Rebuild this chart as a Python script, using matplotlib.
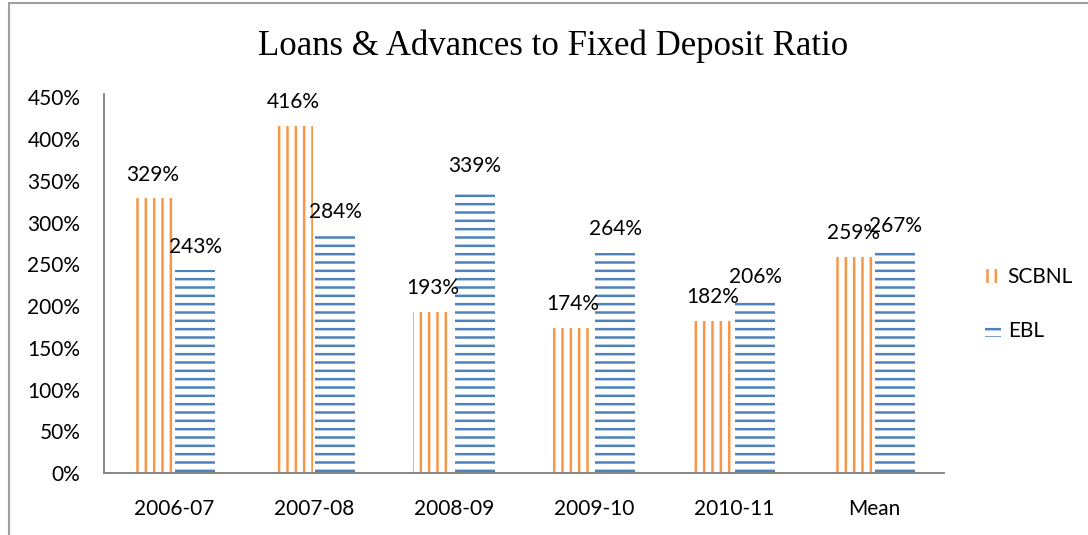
import matplotlib
matplotlib.use("Agg")
import matplotlib.pyplot as plt
from matplotlib.patches import Rectangle
from matplotlib.ticker import FuncFormatter

years = ["2006-07", "2007-08", "2008-09", "2009-10", "2010-11", "Mean"]
scbnl = [329, 416, 193, 174, 182, 259]
ebl = [243, 284, 339, 264, 206, 267]
series_names = ["SCBNL", "EBL"]
y_ticks = [0, 50, 100, 150, 200, 250, 300, 350, 400, 450]

ORANGE = "#F79646"
BLUE = "#4F81BD"
GREY = "#868686"

plt.rcParams["font.family"] = ["Lato", "DejaVu Sans"]
plt.rcParams["hatch.linewidth"] = 1.8

W, H = 1088, 535
fig = plt.figure(figsize=(W / 100, H / 100), dpi=100)

# outer chart frame (runs off the right and bottom edges)
fig.patches.append(Rectangle((9 / W, -0.05), 1.1, 1 - 3 / H + 0.05,
                             transform=fig.transFigure, fill=False,
                             edgecolor="#A0A0A0", linewidth=1.5))

ax = fig.add_axes([104 / W, 62 / H, 840 / W, (473 - 94) / H])

x = list(range(len(years)))
bw = 0.28
off = 0.15
b1 = ax.bar([i - off for i in x], scbnl, width=bw, facecolor="none",
            edgecolor=ORANGE, linewidth=0, hatch="||", label=series_names[0])
b2 = ax.bar([i + off for i in x], ebl, width=bw, facecolor="none",
            edgecolor=BLUE, linewidth=0, hatch="--", label=series_names[1])

for bars, vals in ((b1, scbnl), (b2, ebl)):
    for rect, v in zip(bars, vals):
        ax.annotate(f"{v}%", (rect.get_x() + rect.get_width() / 2, v),
                    xytext=(0, 17), textcoords="offset points",
                    ha="center", va="center", fontsize=15, color="black")

ax.set_xlim(-0.5, len(years) - 0.5)
ax.set_ylim(0, 454)
ax.set_xticks(x)
ax.set_xticklabels(years)
ax.set_yticks(y_ticks)
ax.yaxis.set_major_formatter(FuncFormatter(lambda v, p: f"{int(v)}%"))
ax.tick_params(axis="both", length=0, labelsize=15, colors="black")
ax.tick_params(axis="y", pad=17)
ax.tick_params(axis="x", pad=19)

for s in ("top", "right"):
    ax.spines[s].set_visible(False)
for s in ("left", "bottom"):
    ax.spines[s].set_color(GREY)
    ax.spines[s].set_linewidth(1.4)

fig.text(553 / W, 1 - 46 / H, "Loans & Advances to Fixed Deposit Ratio",
         ha="center", va="center", fontsize=25,
         family=["Liberation Serif", "DejaVu Serif"])

fig.legend(handles=[b1, b2], labels=series_names, loc="center left",
           bbox_to_anchor=(966 / W, 1 - 304 / H), frameon=False,
           fontsize=15, handlelength=0.8, handleheight=0.7,
           handletextpad=0.3, labelspacing=1.6)

fig.savefig("out.png", dpi=100)
